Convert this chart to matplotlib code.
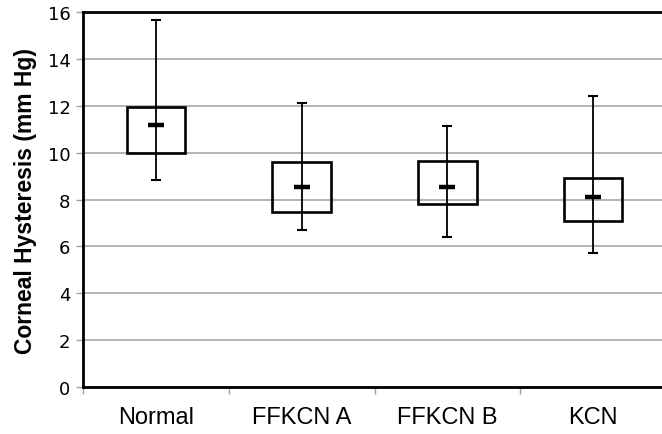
import matplotlib.pyplot as plt
import numpy as np

# valors llegits del grafic
groups = ["Normal", "FFKCN A", "FFKCN B", "KCN"]
whisk_low = [8.85, 6.7, 6.38, 5.72]
q1 = [10.0, 7.45, 7.81, 7.1]
median = [11.2, 8.52, 8.52, 8.11]
q3 = [11.95, 9.61, 9.66, 8.92]
whisk_high = [15.66, 12.1, 11.15, 12.4]

fig = plt.figure(figsize=(6.62, 4.35), dpi=100)
# l'eix continua una mica mes enlla de la vora dreta
ax = fig.add_axes([83 / 662, 47 / 435, 583 / 662, 375 / 435])

x = np.arange(len(groups))
q1a = np.array(q1)
q3a = np.array(q3)

for v in range(0, 17, 2):
    ax.axhline(v, color="#a8a8a8", lw=1.2, zorder=0)

ax.vlines(x, whisk_low, whisk_high, color="black", lw=1.3, zorder=2)
ax.hlines(whisk_high, x - 0.035, x + 0.035, color="black", lw=1.5, zorder=2)
ax.hlines(whisk_low, x - 0.035, x + 0.035, color="black", lw=1.5, zorder=2)
ax.bar(x, q3a - q1a, bottom=q1a, width=0.4, fill=False, edgecolor="black", lw=1.9, zorder=3)
ax.hlines(median, x - 0.055, x + 0.055, color="black", lw=3.2, zorder=4)

ax.set_xlim(-0.5, 3.5)
ax.set_ylim(0, 16)
ax.set_yticks(range(0, 17, 2))
ax.set_yticklabels([str(v) for v in range(0, 17, 2)], fontsize=13, family="DejaVu Sans")
ax.set_xticks(x)
ax.set_xticklabels(groups, fontsize=17, family="Liberation Sans")
ax.set_xticks(np.arange(-0.5, 3.6, 1), minor=True)
ax.tick_params(axis="x", which="major", length=0, pad=14)
ax.tick_params(axis="x", which="minor", length=5, color="#a0a0a0", width=1)
ax.tick_params(axis="y", length=5, color="#a0a0a0", width=1, pad=4)

ax.set_ylabel("Corneal Hysteresis (mm Hg)", fontsize=16.5, fontweight="bold",
              family="Liberation Sans", labelpad=8)

for s in ["top", "left", "bottom"]:
    ax.spines[s].set_linewidth(2)
    ax.spines[s].set_color("black")
ax.spines["right"].set_visible(False)

fig.savefig("out.png", dpi=100)
